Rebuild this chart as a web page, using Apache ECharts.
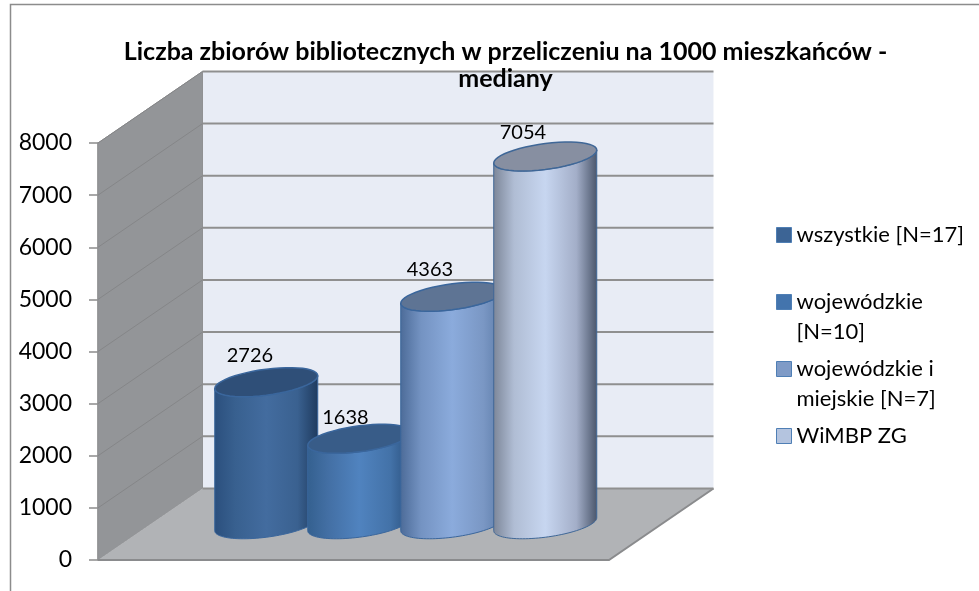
<!DOCTYPE html>
<html><head><meta charset="utf-8">
<style>html,body{margin:0;padding:0;background:#fff}#c{width:979px;height:591px}</style>
<script src="https://cdn.jsdelivr.net/npm/echarts@6/dist/echarts.min.js"></script>
</head><body><div id="c"></div>
<script>
const chartTitle = 'Liczba zbiorów bibliotecznych w przeliczeniu na 1000 mieszkańców -\nmediany';
const category = [''];
const seriesNames = ['wszystkie [N=17]', 'wojewódzkie [N=10]', 'wojewódzkie i miejskie [N=7]', 'WiMBP ZG'];
const legendLabels = ['wszystkie [N=17]', 'wojewódzkie\n[N=10]', 'wojewódzkie i\nmiejskie [N=7]', 'WiMBP ZG'];
const seriesValues = [2726, 1638, 4363, 7054];
const yTicks = [0, 1000, 2000, 3000, 4000, 5000, 6000, 7000, 8000];

const FONT = 'Lato, "Open Sans", sans-serif';
const palette = [
  {swatch:'#3c6495', top:'#2f4f78', nudge:[-6,-1], stops:['#2b4f7d','#38608f','#436c9f','#3a6190','#1e3a5e']},
  {swatch:'#4374ad', top:'#385c88', nudge:[-3.5,4], stops:['#34608f','#436fa4','#5083bf','#4372a8','#2a4f7c']},
  {swatch:'#7f9bc7', top:'#5e7494', nudge:[-12,-2], stops:['#4c6b98','#7493c2','#8babdc','#7a97c4','#5a7aa6']},
  {swatch:'#b4c4df', top:'#878fa1', nudge:[-12,2], stops:['#7c8698','#b0bdd4','#c7d6f0','#a3aec8','#4a566b']}
];

// Depth of the 3D box, as fractions of the plot box
const DEPTH_X = 0.2045, DEPTH_Y = 0.1715;
const depthOf = (cs) => [cs.width * DEPTH_X, cs.height * DEPTH_Y];

function renderBox(params, api) {
  const cs = params.coordSys;
  const [dx, dy] = depthOf(cs);
  const b = api.coord([0, 0])[1], t = api.coord([0, 8000])[1];
  const l = cs.x, r = cs.x + cs.width;
  return {type:'group', silent:true, children:[
    {type:'polygon', shape:{points:[[l+dx,t-dy],[r+dx,t-dy],[r+dx,b-dy],[l+dx,b-dy]]}, style:{fill:'#e8ecf5'}},
    {type:'polygon', shape:{points:[[l,t],[l+dx,t-dy],[l+dx,b-dy],[l,b]]}, style:{fill:'#939598', stroke:'#8f9092', lineWidth:1}},
    {type:'polygon', shape:{points:[[l,b],[l+dx,b-dy],[r+dx,b-dy],[r,b]]}, style:{fill:'#b1b3b6'}},
    {type:'polyline', shape:{points:[[l,b],[r,b],[r+dx,b-dy]]}, style:{stroke:'#8a8b8d', lineWidth:2, fill:null}}
  ]};
}
function renderGridline(params, api) {
  const cs = params.coordSys;
  const [dx, dy] = depthOf(cs);
  const y = api.coord([0, api.value(1)])[1];
  const l = cs.x, r = cs.x + cs.width;
  const children = [
    {type:'line', shape:{x1:l+dx, y1:y-dy, x2:r+dx, y2:y-dy}, style:{stroke:'#8f8f8f', lineWidth:2}}
  ];
  if (api.value(1) > 0) children.push({type:'line', shape:{x1:l, y1:y, x2:l+dx, y2:y-dy}, style:{stroke:'#858688', lineWidth:1}});
  return {type:'group', silent:true, children};
}
function ellipsePts(cx, cy, a, c, s, from, to) {
  const pts = [];
  const n = 48;
  for (let i = 0; i <= n; i++) {
    const th = from + (to - from) * i / n;
    pts.push([cx + a * Math.cos(th), cy - s * Math.cos(th) + c * Math.sin(th)]);
  }
  return pts;
}
function makeCylinder(idx) {
  return function (params, api) {
    const cs = params.coordSys;
    const [dx, dy] = depthOf(cs);
    const band = api.size([1, 0])[0];
    const pitch = band * 0.182, a = band * 0.1008;
    const c = a * 0.2524, s = a * 0.1262;
    const base = api.coord([0, 0]);
    const top = api.coord([0, api.value(1)]);
    const cx = base[0] + dx / 2 + (idx - 1.5) * pitch;
    const by = base[1] - dy / 2, ty = top[1] - dy / 2;
    const pal = palette[idx];
    const front = ellipsePts(cx, by, a, c, s, Math.PI, 0);
    const topFront = ellipsePts(cx, ty, a, c, s, 0, Math.PI);
    const whole = ellipsePts(cx, ty, a, c, s, 0, Math.PI * 2);
    const edge = idx === 3 ? '#3f6797' : '#3a669c';
    return {type:'group', children:[
      {type:'polygon', shape:{points:front.concat(topFront)},
        style:{stroke:edge, lineWidth:1, fill:{type:'linear', x:0, y:0, x2:1, y2:0, colorStops:[
          {offset:0, color:pal.stops[0]},{offset:0.2, color:pal.stops[1]},{offset:0.5, color:pal.stops[2]},
          {offset:0.8, color:pal.stops[3]},{offset:1, color:pal.stops[4]}]}}},
      {type:'polygon', shape:{points:whole}, style:{fill:pal.top, stroke:edge, lineWidth:1.5}},
      {type:'text', x:cx - a * 0.2 + pal.nudge[0], y:ty - a * 0.5 + pal.nudge[1], style:{text:String(api.value(1)), fill:'#000', font:'20px '+FONT, textAlign:'center', textVerticalAlign:'middle'}}
    ]};
  };
}

const chart = echarts.init(document.getElementById('c'), null, {renderer:'canvas'});
chart.setOption({
  animation:false,
  backgroundColor:'#fff',
  title:{text:chartTitle, left:500.5, top:33, textAlign:'center', textStyle:{fontFamily:FONT, fontSize:25, fontWeight:'bold', color:'#000', lineHeight:27}},
  graphic:[{type:'polyline', silent:true, shape:{points:[[10.5,600],[10.5,4.5],[990,4.5]]}, style:{stroke:'#8c8c8c', lineWidth:1.5, fill:null}, z:0}],
  legend:{
    orient:'vertical', left:771, top:185, itemWidth:15, itemHeight:15, itemGap:-23, selectedMode:false,
    icon:'rect',
    data:seriesNames.map((n,i)=>({name:n, itemStyle:{color:palette[i].swatch, borderColor:'#4f7fb5', borderWidth:1}})),
    formatter:(n)=>'\n'+legendLabels[seriesNames.indexOf(n)]+(legendLabels[seriesNames.indexOf(n)].includes('\n')?'':'\n'),
    textStyle:{fontFamily:FONT, fontSize:22, color:'#000', lineHeight:30}
  },
  grid:{left:98, top:143, width:511, height:417, containLabel:false},
  xAxis:{type:'category', data:category, axisLine:{show:false}, axisTick:{show:false}, axisLabel:{show:false}},
  yAxis:{type:'value', min:0, max:8000, interval:1000,
    axisLine:{show:true, lineStyle:{color:'#8c8c8c', width:1.5}},
    axisTick:{show:true, length:9, lineStyle:{color:'#8c8c8c', width:1.5}},
    axisLabel:{fontFamily:FONT, fontSize:23, color:'#000', margin:26, formatter:(v)=>String(v)},
    splitLine:{show:false}},
  series:[
    {type:'custom', name:'box', data:[[0,0]], renderItem:renderBox, encode:{x:0,y:1}, z:1, silent:true, clip:false},
    {type:'custom', name:'gridlines', data:yTicks.map(v=>[0,v]), renderItem:renderGridline, encode:{x:0,y:1}, z:2, silent:true, clip:false},
    ...seriesNames.map((n,i)=>({type:'custom', name:n, data:[[0,seriesValues[i]]], renderItem:makeCylinder(i), encode:{x:0,y:1}, z:3+i, clip:false,
      itemStyle:{color:palette[i].swatch}}))
  ]
});
</script></body></html>
